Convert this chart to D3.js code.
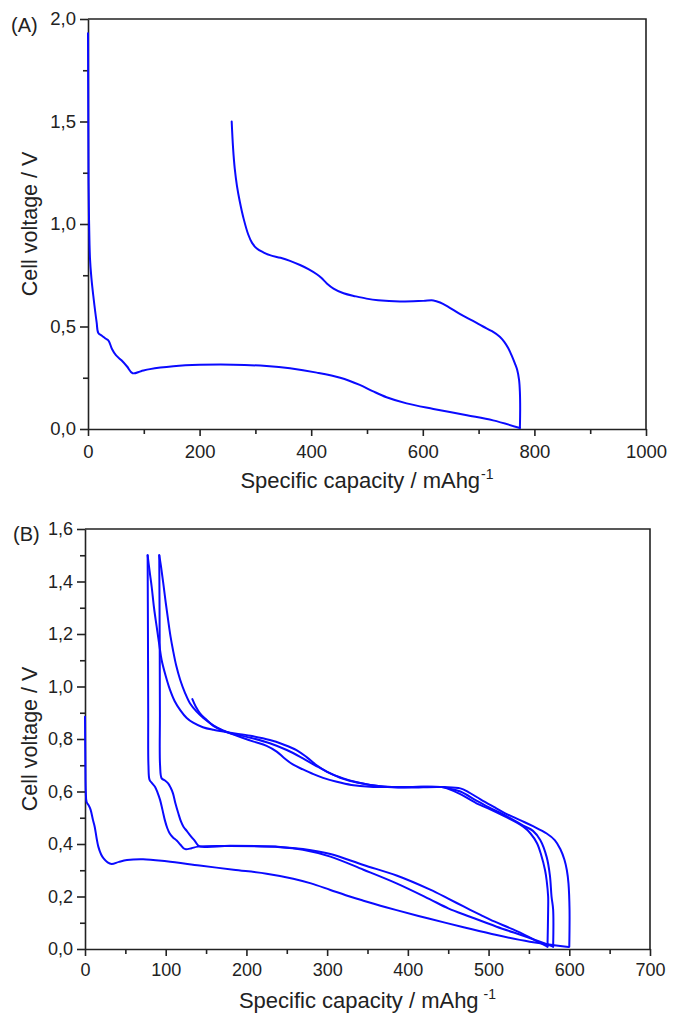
<!DOCTYPE html>
<html><head><meta charset="utf-8">
<script src="https://cdn.jsdelivr.net/npm/d3@7"></script>
<style>
body{margin:0;background:#fff;}
text{font-family:"Liberation Sans",Arial,sans-serif;fill:#222;}
</style></head>
<body><svg id="c" width="673" height="1013"></svg>
<script>
// ---------- Panel A data (capacity mAh/g, voltage V) ----------
const aDischarge = [[0,1.93],[0.5,1.5],[1,1.2],[2,1.0],[3.6,0.83],[6,0.74],[9.5,0.65],[15.5,0.52],[18.5,0.468],[25,0.455],[32,0.44],[37,0.43],[43,0.39],[50,0.36],[60,0.335],[70,0.305],[80,0.272],[95,0.282],[111,0.292],[153,0.306],[200,0.313],[260,0.314],[320,0.307],[362,0.296],[410,0.275],[452,0.25],[487,0.215],[510,0.185],[535,0.155],[571,0.125],[619,0.098],[679,0.067],[726,0.042],[774,0.005]];
const aCharge = [[774,0.005],[774.5,0.1],[774,0.18],[772.5,0.24],[769,0.29],[765,0.32],[759,0.36],[753,0.395],[746,0.425],[738,0.45],[724,0.477],[708,0.50],[690,0.527],[667,0.56],[645,0.597],[631,0.617],[619,0.627],[601,0.625],[559,0.622],[520,0.628],[499,0.636],[480,0.647],[458,0.662],[440,0.685],[428,0.71],[418,0.738],[410,0.755],[395,0.78],[380,0.80],[362,0.82],[345,0.835],[326,0.848],[314,0.862],[302,0.882],[294,0.908],[287,0.95],[279,1.025],[272,1.11],[267,1.185],[263,1.27],[260,1.37],[257.5,1.50]];

// ---------- Panel B data ----------
const bDischarge1 = [[0,0.885],[0.5,0.7],[1,0.6],[2,0.56],[5,0.545],[7,0.53],[10,0.49],[12,0.466],[14.5,0.42],[16.5,0.39],[20,0.36],[23,0.345],[28,0.33],[33,0.324],[42,0.332],[52,0.339],[72,0.342],[101,0.334],[142,0.318],[184,0.302],[225,0.287],[258,0.268],[280,0.25],[304,0.225],[330,0.198],[345,0.184],[366,0.165],[386,0.148],[427,0.115],[469,0.083],[510,0.053],[551,0.028],[599,0.008]];
const bCharge1 = [[600,0.009],[600.3,0.15],[599,0.25],[597,0.30],[594,0.34],[589,0.38],[582,0.415],[572,0.44],[555,0.468],[539,0.491],[520,0.518],[506,0.542],[490,0.57],[475,0.598],[465,0.612],[445,0.617],[420,0.618],[380,0.617],[353,0.625],[337,0.635],[320,0.65],[300,0.675],[287,0.70],[275,0.73],[262,0.758],[245,0.78],[229,0.796],[205,0.812],[180,0.824],[159,0.835],[146,0.845],[134,0.862],[126,0.88],[118,0.91],[111,0.945],[105,0.99],[100,1.04],[95,1.10],[92,1.16],[88.8,1.228],[85.5,1.30],[82.6,1.38],[80,1.44],[77.6,1.50]];
const bDischarge2 = [[77.6,1.50],[78,1.2],[78.3,0.9],[78.6,0.7],[80,0.644],[83,0.632],[86.7,0.618],[90,0.595],[93,0.568],[96,0.53],[99,0.49],[102,0.46],[105,0.44],[109,0.425],[113.6,0.413],[118,0.398],[122,0.384],[125,0.38],[132,0.384],[140,0.39],[180,0.392],[242,0.388],[270,0.378],[304,0.352],[345,0.302],[386,0.25],[427,0.19],[450,0.155],[477,0.123],[510,0.085],[551,0.042],[580,0.009]];
const bCharge2 = [[580,0.009],[580,0.15],[578,0.20],[576,0.28],[572,0.35],[564,0.415],[555,0.45],[543,0.47],[520,0.51],[500,0.54],[485,0.565],[465,0.60],[450,0.612],[442,0.617],[400,0.615],[370,0.618],[337,0.634],[320,0.648],[300,0.675],[285,0.70],[270,0.726],[250,0.758],[229,0.784],[205,0.805],[180,0.822],[171,0.833],[160,0.85],[147,0.879],[138,0.905],[130,0.936],[124,0.975],[118,1.025],[113,1.08],[109,1.139],[106,1.19],[103,1.253],[100,1.32],[97,1.393],[94.5,1.45],[92,1.50]];
const bDischarge3 = [[92,1.50],[92.5,1.2],[92.8,0.9],[93,0.7],[95,0.65],[99,0.642],[103,0.631],[106,0.615],[109,0.593],[112,0.555],[115.6,0.517],[119,0.485],[122,0.466],[126,0.45],[130,0.434],[136,0.412],[141.6,0.392],[180,0.393],[242,0.389],[270,0.381],[304,0.362],[345,0.32],[386,0.28],[427,0.227],[450,0.192],[469,0.162],[490,0.13],[502,0.112],[535,0.068],[555,0.038],[573,0.009]];
const bCharge3 = [[573,0.009],[573.8,0.15],[573.8,0.20],[572,0.26],[570,0.30],[565,0.36],[560,0.403],[552,0.44],[543,0.466],[520,0.505],[500,0.535],[485,0.555],[465,0.59],[450,0.61],[442,0.617],[400,0.617],[353,0.618],[330,0.625],[312,0.637],[295,0.652],[283,0.666],[270,0.684],[258,0.702],[247,0.727],[237.5,0.752],[225,0.774],[209,0.79],[195,0.805],[180,0.822],[170,0.833],[159,0.85],[150,0.875],[142.5,0.898],[137,0.925],[133,0.952]];

// ---------- Tick values / labels ----------
const aXTicks = [0,200,400,600,800,1000];
const aXMinor = [100,300,500,700,900];
const aYTicks = [0,0.5,1.0,1.5,2.0];
const aYMinor = [0.25,0.75,1.25,1.75];
const bXTicks = [0,100,200,300,400,500,600,700];
const bXMinor = [50,150,250,350,450,550,650];
const bYTicks = [0,0.2,0.4,0.6,0.8,1.0,1.2,1.4,1.6];
const bYMinor = [0.1,0.3,0.5,0.7,0.9,1.1,1.3,1.5];
const panelLabels = ["(A)","(B)"];
const xTitle = "Specific capacity / mAhg";
const yTitle = "Cell voltage / V";

const loc = d3.formatLocale({decimal:",",thousands:"",grouping:[3],currency:["",""]});
const fmt1 = loc.format(".1f");
const svg = d3.select("#c");
const lineColor = "#0a0aff";
const axisColor = "#222";

function panel(cfg){
  const g = svg.append("g");
  const x = d3.scaleLinear().domain(cfg.xDomain).range([cfg.left,cfg.right]);
  const y = d3.scaleLinear().domain(cfg.yDomain).range([cfg.bottom,cfg.top]);
  g.append("path").attr("d",`M${cfg.left},${cfg.top}H${cfg.right}V${cfg.bottom}`)
    .attr("fill","none").attr("stroke",axisColor).attr("stroke-width",1.6);
  const xm = g.append("g").attr("transform",`translate(0,${cfg.bottom})`)
    .call(d3.axisBottom(x).tickValues(cfg.xMinor).tickSize(5).tickFormat(""));
  const ym = g.append("g").attr("transform",`translate(${cfg.left},0)`)
    .call(d3.axisLeft(y).tickValues(cfg.yMinor).tickSize(5).tickFormat(""));
  [xm,ym].forEach(a=>a.select(".domain").remove());
  const xa = g.append("g").attr("transform",`translate(0,${cfg.bottom})`)
    .call(d3.axisBottom(x).tickValues(cfg.xTicks).tickSize(7).tickSizeOuter(0).tickPadding(cfg.xPad).tickFormat(d3.format("d")));
  const ya = g.append("g").attr("transform",`translate(${cfg.left},0)`)
    .call(d3.axisLeft(y).tickValues(cfg.yTicks).tickSize(8).tickSizeOuter(0).tickPadding(4).tickFormat(fmt1));
  [xa,ya,xm,ym].forEach(a=>{
    a.selectAll("line").attr("stroke",axisColor).attr("stroke-width",1.6);
    a.selectAll(".domain").attr("stroke",axisColor).attr("stroke-width",1.6);
    a.selectAll("text").attr("font-size",cfg.tickFont).attr("fill",axisColor)
      .style("font-family",'"Liberation Sans",Arial,sans-serif');
  });
  const line = d3.line().x(d=>x(d[0])).y(d=>y(d[1])).curve(d3.curveCatmullRom.alpha(0.5));
  cfg.series.forEach(s=>{
    g.append("path").datum(s).attr("d",line).attr("fill","none")
      .attr("stroke",lineColor).attr("stroke-width",2).attr("stroke-linejoin","round").attr("stroke-linecap","round");
  });
  const xt = g.append("text").attr("x",(cfg.left+cfg.right)/2).attr("y",cfg.xTitleY)
    .attr("text-anchor","middle").attr("font-size",22).text(xTitle);
  xt.append("tspan").attr("font-size",14).attr("dx",cfg.supDx).attr("dy",-9).text("-1");
  g.append("text").attr("transform",`translate(37,${(cfg.top+cfg.bottom)/2}) rotate(-90)`)
    .attr("text-anchor","middle").attr("font-size",21.5).text(yTitle);
  g.append("text").attr("x",cfg.labX).attr("y",cfg.labY).attr("font-size",20).text(cfg.label);
}

panel({xDomain:[0,1000],yDomain:[0,2],left:88,right:646,top:19,bottom:429,
  xTicks:aXTicks,xMinor:aXMinor,yTicks:aYTicks,yMinor:aYMinor,xPad:9,tickFont:18.5,
  series:[aDischarge,aCharge],xTitleY:488,supDx:1,label:panelLabels[0],labX:11,labY:32});
panel({xDomain:[0,700],yDomain:[0,1.6],left:85,right:650,top:529,bottom:949,
  xTicks:bXTicks,xMinor:bXMinor,yTicks:bYTicks,yMinor:bYMinor,xPad:7,tickFont:18,
  series:[bDischarge1,bCharge1,bDischarge2,bCharge2,bDischarge3,bCharge3],xTitleY:1008,supDx:5,label:panelLabels[1],labX:13,labY:541});
</script></body></html>
